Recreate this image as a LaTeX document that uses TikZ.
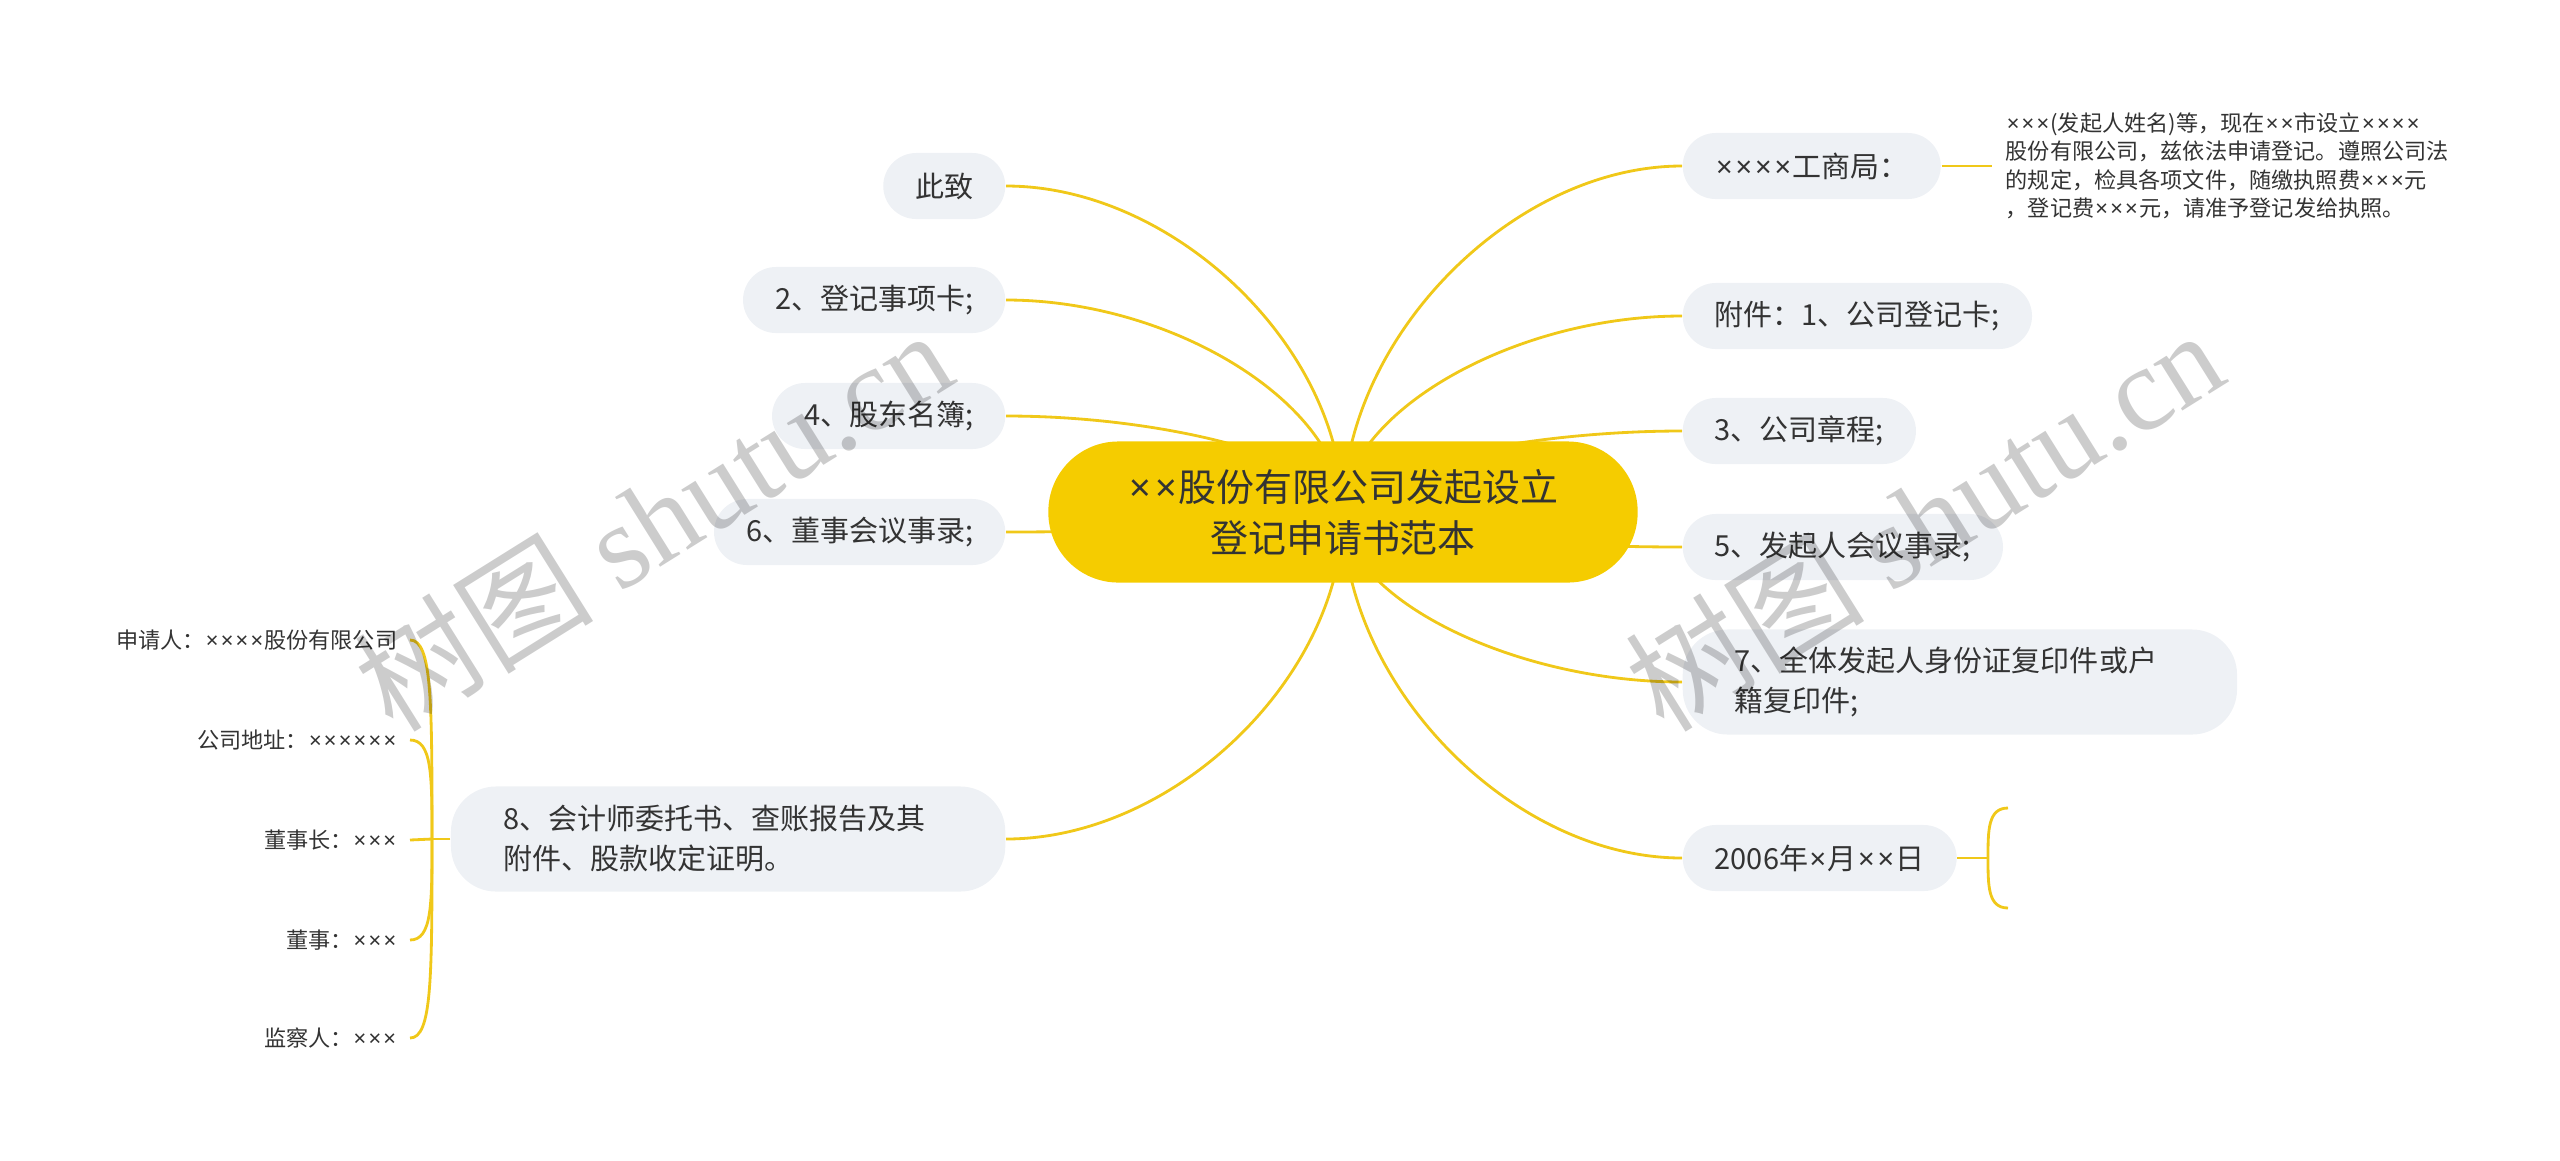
\documentclass[tikz,border=0pt]{standalone}
\usepackage{fontspec}
\setmainfont{Noto Sans CJK SC}
\newfontfamily\wmserif{Liberation Serif}
\newfontfamily\tmsfont{Noto Sans}
\newcommand{\tms}{{\tmsfont\kern0.05em×\kern0.05em}}
\usetikzlibrary{backgrounds}
\definecolor{mapyellow}{RGB}{245,204,0}
\definecolor{mapline}{RGB}{240,200,25}
\definecolor{mapgray}{RGB}{238,241,245}
\definecolor{maptext}{RGB}{51,51,51}
\tikzset{
    rootnode/.style={rectangle, rounded corners=0.7cm, fill=mapyellow, text=maptext, minimum width=5.89cm, minimum height=1.41cm, align=center, font=\fontsize{10.8pt}{14.5pt}\selectfont},
    topicnode/.style={rectangle, rounded corners=0.33cm, fill=mapgray, text=maptext, minimum height=0.66cm, inner xsep=0.32cm, font=\fontsize{8.25pt}{11.4pt}\selectfont},
    widenode/.style={rectangle, rounded corners=0.45cm, fill=mapgray, text=maptext, minimum height=1.05cm, text width=4.5cm, inner xsep=0.52cm, align=left, font=\fontsize{8.25pt}{11.4pt}\selectfont},
    leafnode/.style={inner xsep=0.12cm, inner ysep=0.05cm, text=maptext, font=\fontsize{6.3pt}{8.1pt}\selectfont},
    link/.style={draw=mapline, line width=0.8pt},
    watermark/.style={text=black, text opacity=0.2, rotate=32, font=\fontsize{34pt}{34pt}\selectfont}
}

\begin{document}
\begin{tikzpicture}[x=0.01cm, y=-0.01cm]
    \useasboundingbox (0,0) rectangle (2560,1160);

    \node[rootnode] (c) at (1343,512) {\tms\tms 股份有限公司发起设立\\登记申请书范本};

    % left side
    \node[topicnode, anchor=east] (l1) at (1006,186) {此致};
    \node[topicnode, anchor=east] (l2) at (1006,300) {2、登记事项卡;};
    \node[topicnode, anchor=east] (l3) at (1006,416) {4、股东名簿;};
    \node[topicnode, anchor=east] (l4) at (1006,532) {6、董事会议事录;};
    \node[widenode, anchor=east] (l5) at (1006,839) {8、会计师委托书、查账报告及其\\附件、股款收定证明。};

    \node[leafnode, anchor=east] (a1) at (410,640) {申请人：\tms\tms\tms\tms 股份有限公司};
    \node[leafnode, anchor=east] (a2) at (410,740) {公司地址：\tms\tms\tms\tms\tms\tms};
    \node[leafnode, anchor=east] (a3) at (410,840) {董事长：\tms\tms\tms};
    \node[leafnode, anchor=east] (a4) at (410,940) {董事：\tms\tms\tms};
    \node[leafnode, anchor=east] (a5) at (410,1038) {监察人：\tms\tms\tms};
    \coordinate (j5) at (432,839);

    % right side
    \node[topicnode, anchor=west] (r1) at (1682,166) {\tms\tms\tms\tms 工商局：};
    \node[topicnode, anchor=west] (r2) at (1682,316) {附件：1、公司登记卡;};
    \node[topicnode, anchor=west] (r3) at (1682,431) {3、公司章程;};
    \node[topicnode, anchor=west] (r4) at (1682,547) {5、发起人会议事录;};
    \node[widenode, anchor=west] (r5) at (1682,682) {7、全体发起人身份证复印件或户\\籍复印件;};
    \node[topicnode, anchor=west] (r6) at (1682,858) {2006年\tms 月\tms\tms 日};

    \node[leafnode, anchor=west, inner xsep=0.13cm, align=left] (t1) at (1992,166) {\tms\tms\tms(发起人姓名)等，现在\tms\tms 市设立\tms\tms\tms\tms\\股份有限公司，兹依法申请登记。遵照公司法\\的规定，检具各项文件，随缴执照费\tms\tms\tms 元\\，登记费\tms\tms\tms 元，请准予登记发给执照。};
    \coordinate (k) at (1988,858);
    \coordinate (k1) at (2008,808);
    \coordinate (k2) at (2008,908);

    \begin{scope}[on background layer]
        \draw[link] (c.center) .. controls (1343,349) and (1175,186) .. (l1.east);
        \draw[link] (c.center) .. controls (1343,406) and (1175,300) .. (l2.east);
        \draw[link] (c.center) .. controls (1343,464) and (1175,416) .. (l3.east);
        \draw[link] (c.center) .. controls (1343,522) and (1175,532) .. (l4.east);
        \draw[link] (c.center) .. controls (1343,676) and (1175,839) .. (l5.east);

        \draw[link] (c.center) .. controls (1343,339) and (1512,166) .. (r1.west);
        \draw[link] (c.center) .. controls (1343,414) and (1512,316) .. (r2.west);
        \draw[link] (c.center) .. controls (1343,472) and (1512,431) .. (r3.west);
        \draw[link] (c.center) .. controls (1343,530) and (1512,547) .. (r4.west);
        \draw[link] (c.center) .. controls (1343,597) and (1512,682) .. (r5.west);
        \draw[link] (c.center) .. controls (1343,685) and (1512,858) .. (r6.west);

        \draw[link] (l5.west) -- (j5);
        \draw[link] (j5) .. controls (432,700) and (432,640) .. (a1.east);
        \draw[link] (j5) .. controls (432,775) and (432,740) .. (a2.east);
        \draw[link] (j5) -- (a3.east);
        \draw[link] (j5) .. controls (432,905) and (432,940) .. (a4.east);
        \draw[link] (j5) .. controls (432,978) and (432,1038) .. (a5.east);

        \draw[link] (r1.east) -- (t1.west);
        \draw[link] (r6.east) -- (k);
        \draw[link] (k1) .. controls (1988,808) and (1988,830) .. (k) .. controls (1988,886) and (1988,908) .. (k2);
    \end{scope}

    % watermarks
    \node[watermark] (w1) at (653,519) {树图 {\wmserif shutu.cn}};
    \node[watermark] (w2) at (1924,519) {树图 {\wmserif shutu.cn}};
\end{tikzpicture}
\end{document}
